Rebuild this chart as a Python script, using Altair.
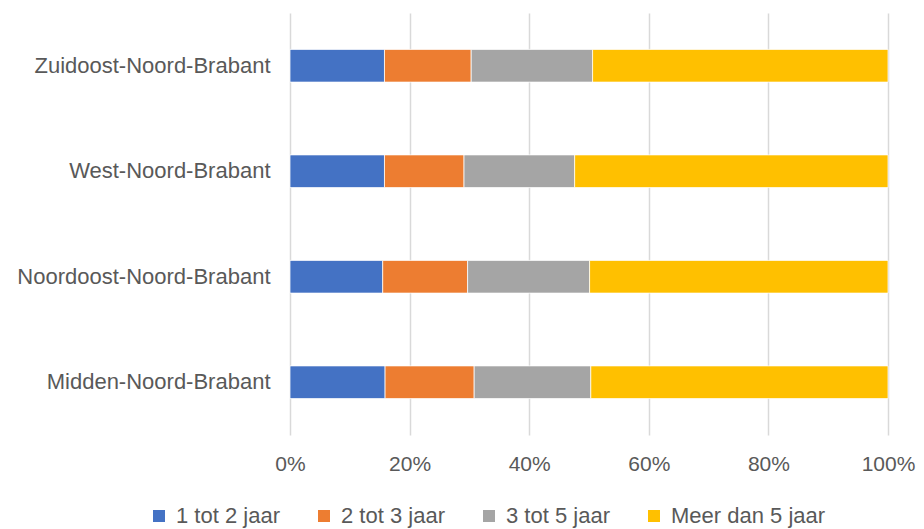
import altair as alt
import pandas as pd

regions = ["Zuidoost-Noord-Brabant", "West-Noord-Brabant", "Noordoost-Noord-Brabant", "Midden-Noord-Brabant"]
series = ["1 tot 2 jaar", "2 tot 3 jaar", "3 tot 5 jaar", "Meer dan 5 jaar"]
colors = ["#4472C4", "#ED7D31", "#A5A5A5", "#FFC000"]
v_1_2 = [15.8, 15.8, 15.5, 15.9]
v_2_3 = [14.5, 13.3, 14.2, 14.9]
v_3_5 = [20.3, 18.5, 20.4, 19.5]
v_5p = [49.4, 52.4, 49.9, 49.7]

rows = []
for i, r in enumerate(regions):
    for j, (s, vals) in enumerate(zip(series, [v_1_2, v_2_3, v_3_5, v_5p])):
        rows.append({"regio": r, "reeks": s, "waarde": vals[i], "volgorde": j})
df = pd.DataFrame(rows)

font = "Liberation Sans"
fs = 22
chart = alt.Chart(df).mark_bar(stroke="white", strokeWidth=0.75).encode(
    y=alt.Y("regio:N", sort=regions, title=None,
            scale=alt.Scale(paddingInner=0.69, paddingOuter=0.345),
            axis=alt.Axis(domain=False, ticks=False, labelPadding=20, labelFontSize=fs,
                          labelColor="#595959", labelFont=font, grid=False, labelLimit=400)),
    x=alt.X("waarde:Q", stack="normalize", title=None,
            scale=alt.Scale(domain=[0, 1]),
            axis=alt.Axis(values=[0, 0.2, 0.4, 0.6, 0.8, 1], format=".0%", domain=False, ticks=False,
                          labelPadding=18, labelFontSize=21, labelColor="#595959", labelFont=font,
                          grid=True, gridColor="#D9D9D9", gridWidth=1.5, labelFlush=False)),
    color=alt.Color("reeks:N", sort=series, scale=alt.Scale(domain=series, range=colors),
                    legend=alt.Legend(title=None, orient="none", legendX=-142, legendY=492,
                                      direction="horizontal", columns=4, symbolType="square",
                                      symbolSize=144, symbolStrokeWidth=0, labelFontSize=fs,
                                      labelColor="#595959", labelFont=font, columnPadding=33,
                                      labelOffset=6, labelLimit=300)),
    order=alt.Order("volgorde:Q"),
).properties(
    width=598, height=422, autosize="none",
    padding={"left": 282, "top": 5, "right": 28, "bottom": 94},
).configure_view(stroke=None)

chart.save("out.html", embed_options={"renderer": "svg", "actions": False})
